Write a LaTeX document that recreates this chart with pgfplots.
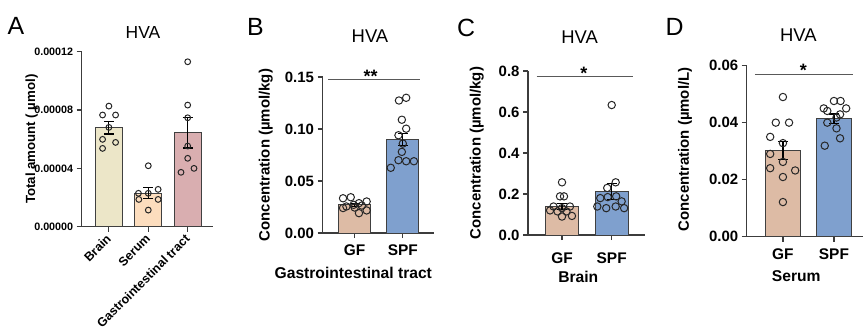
\documentclass[border=0pt]{standalone}
\usepackage{pgfplots}
\pgfplotsset{compat=1.18}
\usepackage{fontspec}
\setmainfont{Liberation Sans}
\definecolor{cBrain}{RGB}{236,230,200}
\definecolor{cSerum}{RGB}{252,221,190}
\definecolor{cGI}{RGB}{217,174,176}
\definecolor{cGF}{RGB}{221,187,165}
\definecolor{cSPF}{RGB}{127,160,206}
\definecolor{axc}{RGB}{60,60,60}
\newcommand{\fs}[1]{\fontsize{#1}{#1}\selectfont}
\pgfplotsset{
  gp/.style={
    scale only axis, anchor=south west,
    axis lines=left, axis line style={-, axc, line width=1.3bp},
    tick style={axc, line width=1.2bp}, tick align=outside, major tick length=5bp,
    ymin=0, clip=false, scaled y ticks=false,
    yticklabel style={font=\bfseries\fs{15}, text=black},
    xticklabel style={font=\bfseries\fs{15.5}, text=black, anchor=base, yshift=-17.5bp},
    ylabel style={font=\bfseries\fs{15}, anchor=center},
  },
  barp/.style={ybar, bar shift=0pt, draw=black!75, line width=1bp, fill=#1},
  pts/.style={only marks, mark=o, mark size=#1, mark options={draw=black!85, fill=none, line width=1bp}},
  eb/.style={draw=none, mark=none, forget plot,
    error bars/.cd, y dir=both, y explicit,
    error bar style={black, line width=1.2bp},
    error mark options={black, line width=1.2bp, mark size=5bp, rotate=90}},
}
\begin{document}
\begin{tikzpicture}[x=1bp,y=1bp]
\path[use as bounding box] (0,0) rectangle (865,329);

% ---------------- Panel A ----------------
\begin{axis}[gp, at={(81.7bp,102.3bp)}, width=131.6bp, height=175bp,
  xmin=-0.69, xmax=2.65, ymax=0.00012,
  xtick={0,1,2},
  ytick={0,0.00004,0.00008,0.00012},
  yticklabels={0.00000,0.00004,0.00008,0.00012},
  yticklabel style={font=\bfseries\fs{10.8}},
  xticklabels={Brain,Serum,Gastrointestinal tract},
  xticklabel style={font=\bfseries\fs{12.5}, xshift=-3.5bp, yshift=20.6bp, rotate=45, anchor=north east},
  ylabel={Total amount ( \textmu mol)},
  ylabel style={font=\bfseries\fs{13.3}, at={(axis description cs:-0.38,0.5)}},
  bar width=0.69]
\addplot[barp=cBrain] coordinates {(0,6.79e-5)};
\addplot[barp=cSerum] coordinates {(1,2.31e-5)};
\addplot[barp=cGI] coordinates {(2,6.44e-5)};
\addplot[pts=2.9bp] coordinates {
 (0,8.27e-5) (-0.16,7.66e-5) (0.17,7.66e-5) (0,6.81e-5) (-0.16,5.99e-5) (0.17,5.78e-5) (-0.16,5.37e-5)
 (1,4.18e-5) (0.75,2.29e-5) (1,2.29e-5) (1.25,2.56e-5) (0.76,1.87e-5) (1.25,1.87e-5) (1,1.14e-5)
 (2,11.31e-5) (2,8.34e-5) (2,7.47e-5) (2,5.53e-5) (2,4.69e-5) (1.83,3.73e-5) (2.16,4.0e-5)};
\addplot[eb] coordinates {(0,6.79e-5) +- (0,0.43e-5) (1,2.31e-5) +- (0,0.37e-5) (2,6.44e-5) +- (0,1.05e-5)};
\end{axis}

% ---------------- Panel B ----------------
\begin{axis}[gp, at={(322.5bp,96bp)}, width=111.5bp, height=156bp,
  xmin=-0.666, xmax=1.647, ymax=0.15,
  xtick={0,1},
  ytick={0,0.05,0.10,0.15}, yticklabels={0.00,0.05,0.10,0.15},
  xticklabels={GF,SPF},
  ylabel={Concentration (\textmu mol/kg)},
  ylabel style={at={(axis description cs:-0.508,0.5)}},
  bar width=0.67]
\addplot[barp=cGF] coordinates {(0,0.0271)};
\addplot[barp=cSPF] coordinates {(1,0.0898)};
\addplot[pts=3.7bp] coordinates {
 (-0.24,0.0334) (-0.08,0.0344) (0.09,0.0287) (0.25,0.0303) (-0.17,0.0255) (-0.02,0.0271)
 (0.15,0.0264) (-0.24,0.0240) (0.0,0.0245) (0.09,0.0191) (0.25,0.0217)
 (0.92,0.1274) (1.07,0.1300) (0.98,0.1089) (1.07,0.1003) (0.91,0.0940) (1.0,0.0860)
 (0.98,0.0780) (0.91,0.0700) (1.07,0.0690) (1.23,0.0690) (0.75,0.0627)};
\addplot[eb] coordinates {(0,0.0271) +- (0,0.0015) (1,0.0898) +- (0,0.0057)};
\draw[black!65, line width=1.2bp] (axis cs:-0.55,0.1474) -- (axis cs:1.36,0.1474);
\node[font=\bfseries\fs{18}] at (axis cs:0.33,0.1505) {**};
\end{axis}

% ---------------- Panel C ----------------
\begin{axis}[gp, at={(528bp,94bp)}, width=117bp, height=164bp,
  xmin=-0.684, xmax=1.67, ymax=0.8,
  xtick={0,1},
  ytick={0,0.2,0.4,0.6,0.8}, yticklabels={0.0,0.2,0.4,0.6,0.8},
  xticklabels={GF,SPF},
  xticklabel style={yshift=-6bp},
  ylabel={Concentration (\textmu mol/kg)},
  ylabel style={at={(axis description cs:-0.437,0.5)}},
  bar width=0.67]
\addplot[barp=cGF] coordinates {(0,0.139)};
\addplot[barp=cSPF] coordinates {(1,0.213)};
\addplot[pts=3.7bp] coordinates {
 (0,0.257) (-0.04,0.1885) (0.04,0.1885) (-0.17,0.139) (0,0.131) (0.16,0.139)
 (-0.24,0.120) (-0.09,0.115) (0.09,0.115) (0,0.090) (0.2,0.093)
 (1,0.634) (1.08,0.257) (0.91,0.2295) (0.77,0.180) (0.92,0.185) (1.09,0.1885)
 (1.2,0.164) (0.71,0.139) (0.89,0.131) (1.08,0.139) (1.25,0.131)};
\addplot[eb] coordinates {(0,0.139) +- (0,0.015) (1,0.213) +- (0,0.040)};
\draw[black!65, line width=1.2bp] (axis cs:-0.51,0.772) -- (axis cs:1.42,0.772);
\node[font=\bfseries\fs{18}] at (axis cs:0.44,0.79) {*};
\end{axis}

% ---------------- Panel D ----------------
\begin{axis}[gp, at={(746.7bp,92.5bp)}, width=116.3bp, height=170.8bp,
  xmin=-0.71, xmax=1.57, ymax=0.06,
  xtick={0,1},
  ytick={0,0.02,0.04,0.06}, yticklabels={0.00,0.02,0.04,0.06},
  xticklabels={GF,SPF},
  ylabel={Concentration (\textmu mol/L)},
  ylabel style={at={(axis description cs:-0.53,0.51)}},
  bar width=0.67]
\addplot[barp=cGF] coordinates {(0,0.0303)};
\addplot[barp=cSPF] coordinates {(1,0.0413)};
\addplot[pts=3.7bp] coordinates {
 (0,0.049) (-0.14,0.040) (0.12,0.040) (-0.25,0.035) (0,0.0328) (-0.25,0.029)
 (0,0.0262) (-0.25,0.0240) (0.24,0.0232) (0,0.0209) (0,0.0121)
 (1,0.0476) (1.13,0.0476) (0.8,0.0450) (1.24,0.0450) (0.87,0.0441) (1.12,0.0429)
 (1.05,0.0418) (0.87,0.0400) (1.05,0.0380) (0.82,0.0319) (1.12,0.0345)};
\addplot[eb] coordinates {(0,0.0303) +- (0,0.0032) (1,0.0413) +- (0,0.0017)};
\draw[black!65, line width=1.2bp] (axis cs:-0.55,0.0568) -- (axis cs:1.37,0.0568);
\node[font=\bfseries\fs{18}] at (axis cs:0.40,0.0583) {*};
\end{axis}

% ---------------- titles, letters, x labels ----------------
\node[font=\fs{25}] at (16,303) {A};
\node[font=\fs{25}] at (255.5,302) {B};
\node[font=\fs{25}] at (466,301.5) {C};
\node[font=\fs{25}] at (674.7,302) {D};
\node[font=\fs{17.5}] at (143,296.5) {HVA};
\node[font=\fs{18.5}] at (370,293) {HVA};
\node[font=\fs{18.5}] at (579.7,292) {HVA};
\node[font=\fs{18.5}] at (798.3,294) {HVA};
\node[font=\bfseries\fs{15.7}, anchor=base] at (353.3,50.7) {Gastrointestinal tract};
\node[font=\bfseries\fs{15.7}, anchor=base] at (578.3,46.3) {Brain};
\node[font=\bfseries\fs{15.7}, anchor=base] at (796.3,48) {Serum};
\end{tikzpicture}
\end{document}
